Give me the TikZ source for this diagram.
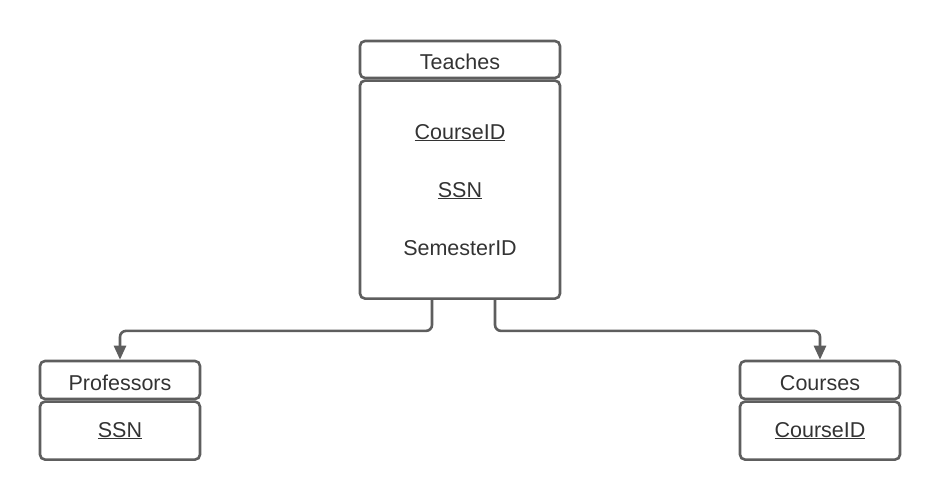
\documentclass[tikz,border=0pt]{standalone}
\usepackage{fontspec}
\setmainfont{Liberation Sans}
\usetikzlibrary{shapes,arrows.meta,positioning}
\definecolor{edgegray}{HTML}{5E5E5E}
\definecolor{textgray}{HTML}{333333}

\begin{document}
\begin{tikzpicture}[x=1pt,y=-1pt,>={Triangle[length=14pt,width=12pt]},
    box/.style={draw=edgegray, line width=2.6pt, rounded corners=5pt, rectangle, text=textgray, font=\fontsize{21.5}{26}\selectfont, inner sep=0pt},
    head/.style={box, text height=20pt, text depth=0pt},
    body/.style={box, align=center},
    conn/.style={draw=edgegray, line width=2.6pt, rounded corners=6pt, ->}]
        \useasboundingbox (0,0) rectangle (940,500);
        % relation in the middle
        \node[head, minimum width=200pt, minimum height=37pt] (teaches) at (460,59.5) {Teaches};
        \node[body, minimum width=200pt, minimum height=218pt, below=0pt of teaches] (teachesBody) {\underline{CourseID}\\[32pt]\underline{SSN}\\[32pt]SemesterID};
        % the two tables below
        \node[head, minimum width=160pt, minimum height=38pt] (professors) at (120,380) {Professors};
        \node[body, minimum width=160pt, minimum height=58pt, below=0pt of professors] (professorsBody) {\underline{SSN}};
        \node[head, minimum width=160pt, minimum height=38pt] (courses) at (820,380) {Courses};
        \node[body, minimum width=160pt, minimum height=58pt, below=0pt of courses] (coursesBody) {\underline{CourseID}};
        \draw[conn] ([xshift=-28pt]teachesBody.south) -- ++(0,31) -| (professors.north);
        \draw[conn] ([xshift=35pt]teachesBody.south) -- ++(0,31) -| (courses.north);
    \end{tikzpicture}
\end{document}
